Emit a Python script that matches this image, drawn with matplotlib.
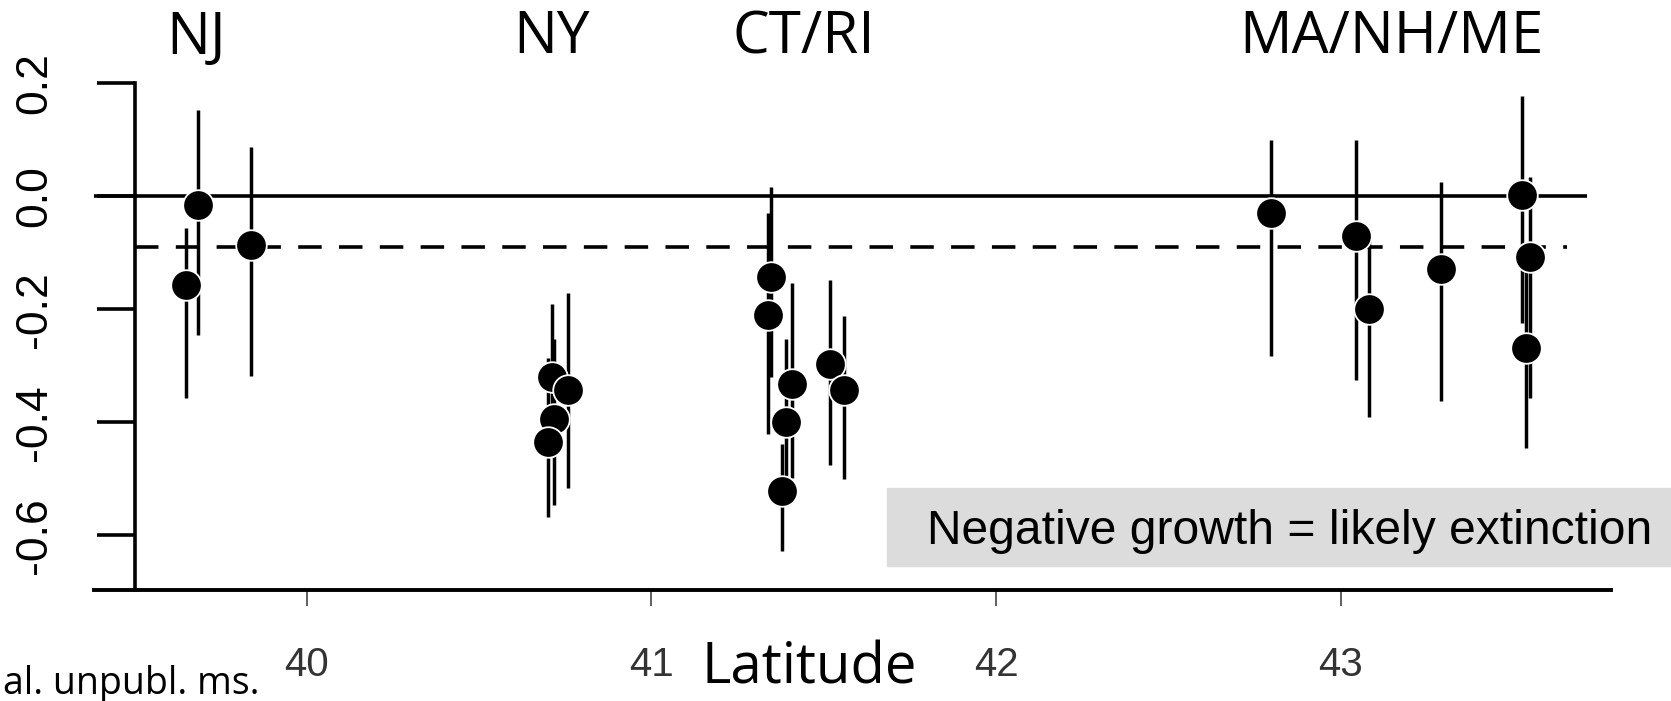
import matplotlib
matplotlib.use("Agg")
import matplotlib.pyplot as plt
from matplotlib.patches import Rectangle
from matplotlib.transforms import blended_transform_factory

# データ：緯度、成長率、信頼区間
latitude = [39.649, 39.683, 39.837,
            40.710, 40.759, 40.717, 40.699,
            41.347, 41.339, 41.407, 41.390, 41.380, 41.518, 41.560,
            42.798, 43.045, 43.084, 43.292, 43.528, 43.550, 43.539]
growth = [-0.157, -0.015, -0.086,
          -0.320, -0.342, -0.393, -0.435,
          -0.143, -0.209, -0.332, -0.400, -0.522, -0.297, -0.342,
          -0.029, -0.070, -0.199, -0.128, 0.002, -0.107, -0.268]
lower = [-0.356, -0.246, -0.318,
         -0.450, -0.516, -0.546, -0.568,
         -0.319, -0.421, -0.498, -0.548, -0.627, -0.475, -0.500,
         -0.283, -0.324, -0.391, -0.362, -0.224, -0.357, -0.445]
upper = [-0.056, 0.153, 0.088,
         -0.190, -0.171, -0.252, -0.286,
         0.017, -0.029, -0.153, -0.252, -0.438, -0.147, -0.211,
         0.100, 0.100, -0.060, 0.025, 0.178, 0.035, -0.091]

regions = ["NJ", "NY", "CT/RI", "MA/NH/ME"]
region_x = [39.678, 40.710, 41.441, 43.149]

mean_growth = -0.09
xticks = [40, 41, 42, 43]
yticks = [-0.6, -0.4, -0.2, 0.0, 0.2]

W, H = 1671, 701
fig = plt.figure(figsize=(W / 100, H / 100), dpi=100)
ax = fig.add_axes([94 / W, (H - 589.5) / H, (1611 - 94) / W, (589.5 - 83.5) / H])
ax.set_xlim(39.382, 43.785)
ax.set_ylim(-0.6956, 0.2)

# 基準線
ax.hlines(0, 39.382, 43.715, color="k", lw=2.6)
ax.hlines(mean_growth, 39.5, 43.657, color="k", lw=2.6, linestyles=(0, (6.5, 4.8)))

# エラーバーと点
ax.vlines(latitude, lower, upper, color="k", lw=2.5, clip_on=False)
for x, y in zip(latitude, growth):
    ax.plot(x, y, "o", ms=22, mfc="k", mec="white", mew=1.3, clip_on=False)

# 軸
for s in ["top", "right"]:
    ax.spines[s].set_visible(False)
ax.spines["bottom"].set_linewidth(2.8)
ax.spines["left"].set_linewidth(2.6)
ax.spines["left"].set_position(("data", 39.5))
ax.spines["left"].set_bounds(-0.6956, 0.2)

ax.set_yticks(yticks)
ax.set_yticklabels(["%.1f" % v for v in yticks], family="Liberation Sans",
                   fontsize=32, rotation=90, va="center")
ax.tick_params(axis="y", length=27.4, width=2.6, pad=30)

ax.set_xticks(xticks)
ax.set_xticklabels([str(v) for v in xticks],
                   family=["Liberation Sans Narrow", "Liberation Sans"],
                   fontsize=29, color="#333333")
ax.tick_params(axis="x", length=11.5, width=1.2, color="#444444", pad=29)

# 地域ラベル
tr = blended_transform_factory(ax.transData, fig.transFigure)
for name, x in zip(regions, region_x):
    ax.text(x, 1 - 53 / H, name, transform=tr, ha="center", va="baseline",
            family="Open Sans", fontsize=42, clip_on=False)

fig.text(809 / W, 1 - 683 / H, "Latitude", ha="center", va="baseline",
         family="Open Sans", fontsize=40.5)
fig.text(0.002, 1 - 694 / H, "al. unpubl. ms.", ha="left", va="baseline",
         family="Open Sans", fontsize=27)

# 注記ボックス
fig.patches.append(Rectangle((887 / W, 1 - 566 / H), 1 - 887 / W, 78 / H,
                             transform=fig.transFigure, color="#dcdcdc", zorder=0))
fig.text(927 / W, 1 - 543.5 / H, "Negative growth = likely extinction",
         ha="left", va="baseline", family="Liberation Sans", fontsize=34.6)

fig.savefig("out.png", dpi=100)
